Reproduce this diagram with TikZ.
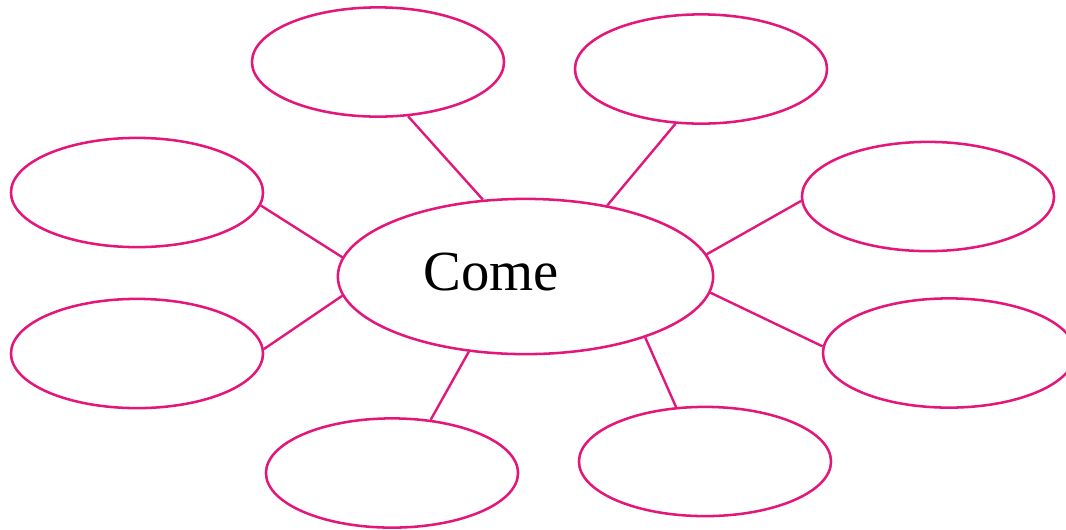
\documentclass[tikz,border=0pt]{standalone}
\usepackage{fontspec}
\setmainfont{Liberation Serif}
\usepackage{tikz}
\usetikzlibrary{shapes.geometric}
\usepackage{xcolor}
\definecolor{fpink}{HTML}{E3177A}
\tikzset{
  bubble/.style = {draw=fpink, line width=1.8pt, ellipse, inner sep=0pt,
                   minimum width=6.3cm, minimum height=2.73cm},
  hubble/.style = {bubble, minimum width=9.38cm, minimum height=3.88cm},
  spoke/.style  = {draw=fpink, line width=1.7pt},
}
\begin{document}
\begin{tikzpicture}[x=0.025cm, y=-0.025cm]
\useasboundingbox (0,0) rectangle (1066,529);
% ---- centre word ----
\node[hubble] (hub) at (525.5,276.5) {};
\node[anchor=base, inner sep=0pt, font=\fontsize{40.3}{44}\selectfont] (word) at (491,290) {Come};
% ---- empty bubbles round it ----
\foreach \n/\x/\y in {tl/378/62, tr/701/69, lu/137/192.5, ll/137/353.5,
                      ru/928/196.5, rl/949/353, bl/392/473, br/705/461.5}
  \node[bubble] (\n) at (\x,\y) {};
% ---- spokes ----
\foreach \n/\a/\b in {tl/-61.8/119.1, tr/-115.7/41.6, lu/-6.3/174.6, ll/2.5/-174.5,
                      ru/182.5/7.8, rl/177.7/-5.1, bl/54.9/-127.2, br/118.8/-27.2}
  \draw[spoke] (\n.\a) -- (hub.\b);
\end{tikzpicture}
\end{document}
